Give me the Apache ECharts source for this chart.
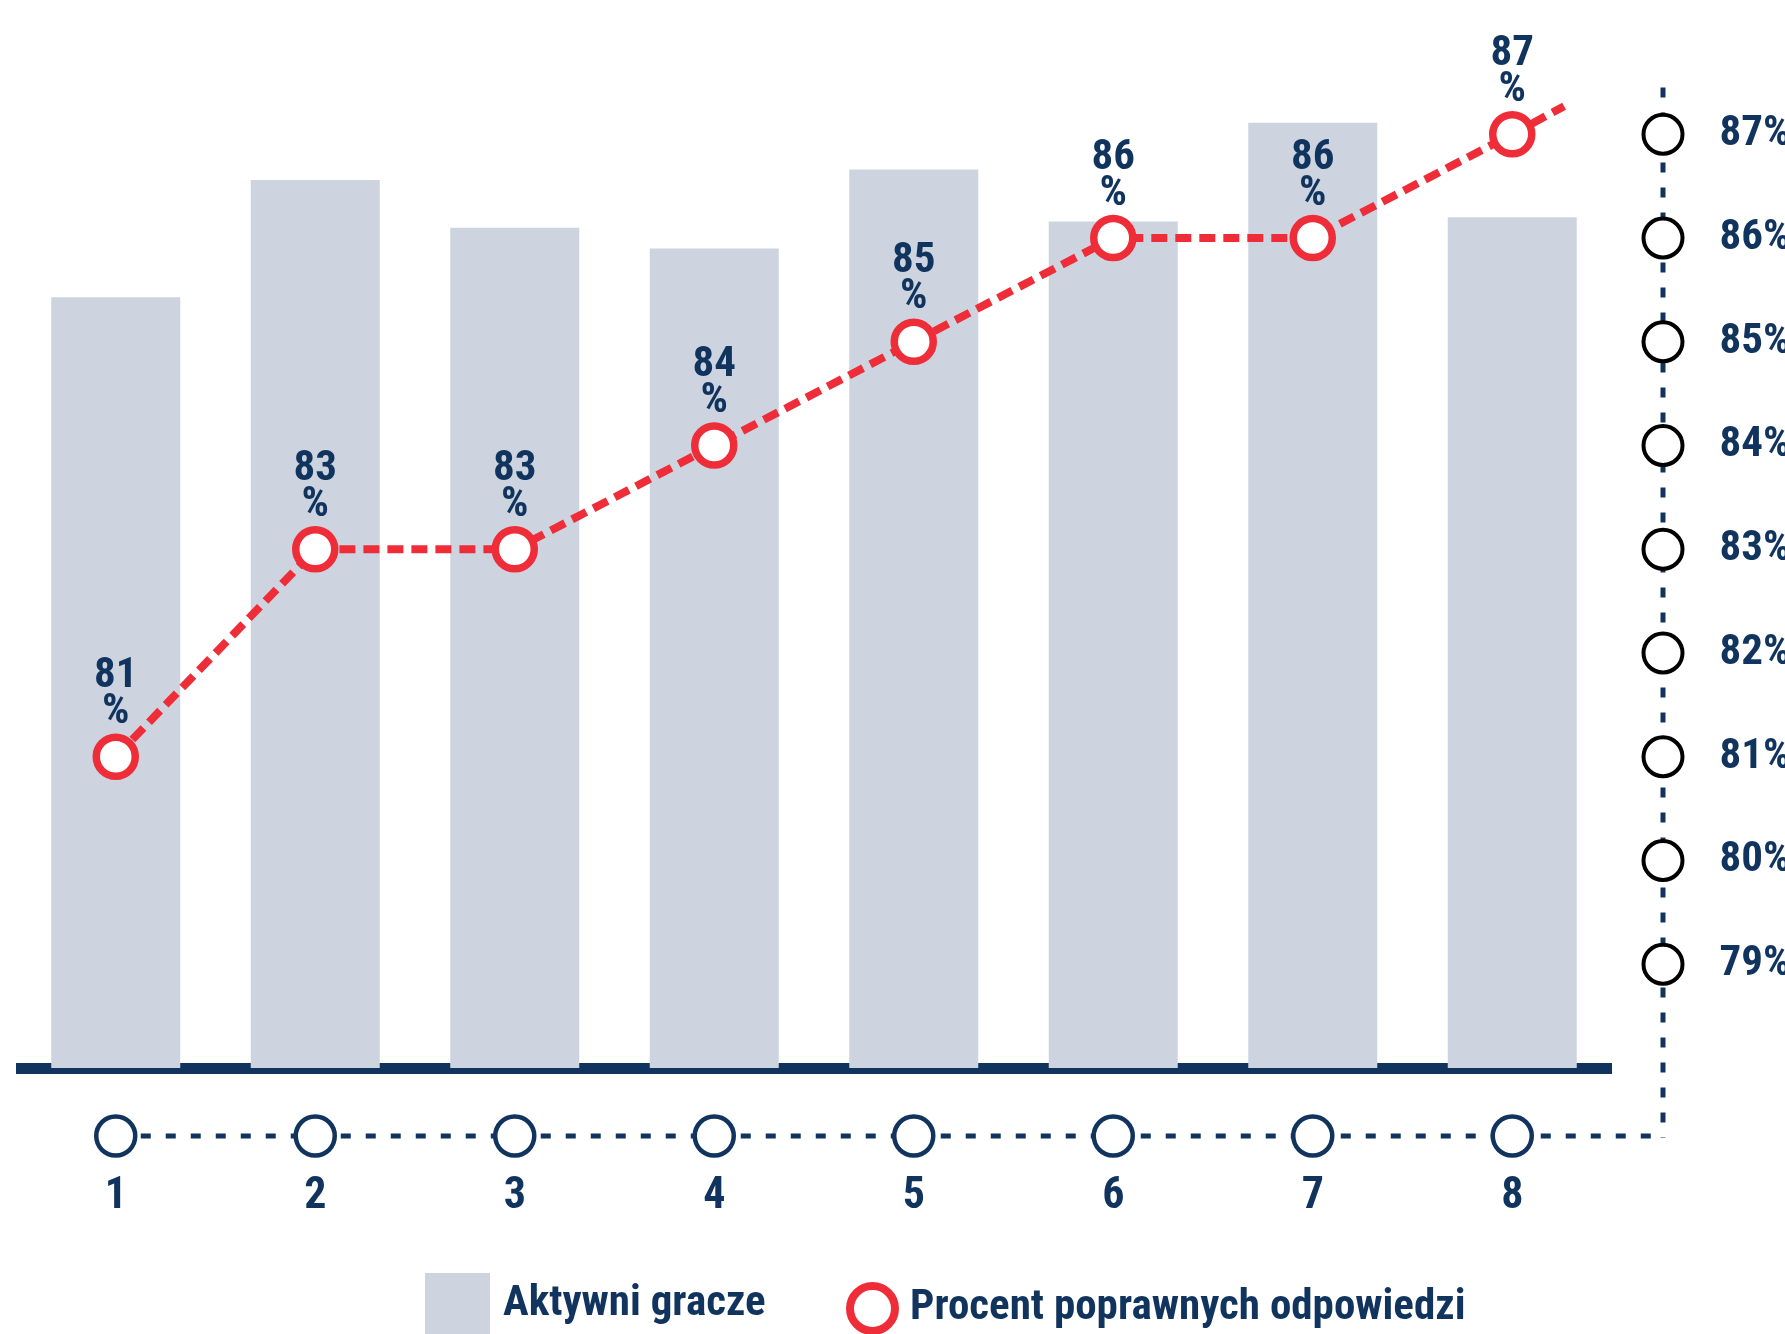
<!DOCTYPE html>
<html>
<head>
<meta charset="utf-8">
<script src="https://cdn.jsdelivr.net/npm/echarts@6/dist/echarts.min.js"></script>
<style>
html,body{margin:0;padding:0;background:#fff;}
#chart{width:1785px;height:1334px;}
</style>
</head>
<body>
<div id="chart"></div>
<script>
// ---- data ----
var categories = ['1', '2', '3', '4', '5', '6', '7', '8'];
var activePlayers = [743, 856, 810, 790, 866, 816, 911, 820];   // relative bar heights (no scale shown)
var correctPct = [81, 83, 83, 84, 85, 86, 86, 87];
var trendTail = [7.26, 87.27];                                  // end of dashed projection after round 8
var pctTicks = [79, 80, 81, 82, 83, 84, 85, 86, 87];
var seriesNames = ['Aktywni gracze', 'Procent poprawnych odpowiedzi'];

// ---- styles ----
var NAVY = '#11345f';
var RED = '#ee2d38';
var BAR = '#cdd4df';
var FONT = "'Liberation Sans Narrow','Roboto Condensed','DejaVu Sans Condensed','Liberation Sans',sans-serif";

var GRID_LEFT = 16, GRID_W = 1596, GRID_TOP = 30.5, GRID_H = 1037.5;

var lineData = correctPct.map(function (v, i) { return [i, v]; });
lineData.push({ value: trendTail, symbol: 'none', label: { show: false } });

var chart = echarts.init(document.getElementById('chart'), null, { renderer: 'canvas' });

var option = {
  animation: false,
  backgroundColor: '#fff',
  textStyle: { fontFamily: FONT },
  grid: [
    { left: GRID_LEFT, width: GRID_W, top: GRID_TOP, height: GRID_H },
    { left: GRID_LEFT, width: GRID_W, top: 1100, height: 72 },
    { left: 1663, width: 10, top: GRID_TOP, height: GRID_H }
  ],
  xAxis: [
    { type: 'category', gridIndex: 0, data: categories, boundaryGap: true,
      axisLine: { show: true, lineStyle: { color: NAVY, width: 11, cap: 'butt' } },
      axisTick: { show: false }, axisLabel: { show: false }, splitLine: { show: false } },
    { type: 'value', gridIndex: 0, min: -0.5, max: 7.5, show: false },
    { type: 'category', gridIndex: 1, data: categories, boundaryGap: true,
      axisLine: { show: false }, axisTick: { show: false },
      axisLabel: { show: true, margin: 3, color: NAVY, fontFamily: FONT, fontWeight: 'bold', fontSize: 44, lineHeight: 44 } },
    { type: 'value', gridIndex: 2, min: 0, max: 1, show: false }
  ],
  yAxis: [
    { type: 'value', gridIndex: 0, min: 0, max: 1000, show: false },
    { type: 'value', gridIndex: 0, min: 78, max: 88, interval: 1, show: false },
    { type: 'value', gridIndex: 1, min: -1, max: 1, show: false },
    { type: 'value', gridIndex: 2, min: 78, max: 88, interval: 1, show: false }
  ],
  legend: [
    { data: [{ name: seriesNames[0], icon: 'rect' }], left: 425, top: 1273, padding: 0,
      itemWidth: 65, itemHeight: 62, selectedMode: false,
      textStyle: { color: NAVY, fontFamily: FONT, fontWeight: 'bold', fontSize: 43, padding: [0, 0, 0, 8] } },
    { data: [{ name: seriesNames[1], icon: 'circle',
               itemStyle: { color: '#fff', borderColor: RED, borderWidth: 8 } }],
      left: 846, top: 1282, padding: 0, itemWidth: 45, itemHeight: 45, selectedMode: false,
      textStyle: { color: NAVY, fontFamily: FONT, fontWeight: 'bold', fontSize: 43, padding: [0, 0, 0, 10] } }
  ],
  series: [
    { name: seriesNames[0], type: 'bar', xAxisIndex: 0, yAxisIndex: 0,
      data: activePlayers, barWidth: 129, itemStyle: { color: BAR }, z: 1 },
    { name: seriesNames[1], type: 'line', xAxisIndex: 1, yAxisIndex: 1,
      data: lineData, symbol: 'circle', symbolSize: 39, z: 5,
      lineStyle: { color: RED, width: 8, type: [16, 8] },
      itemStyle: { color: '#fff', borderColor: RED, borderWidth: 7.5, opacity: 1 },
      label: { show: true, position: 'top', distance: 3, color: NAVY, fontFamily: FONT,
               fontWeight: 'bold', fontSize: 43, lineHeight: 36,
               formatter: function (p) { return p.value[1] + '\n%'; } } },
    { name: 'xTicks', type: 'scatter', xAxisIndex: 2, yAxisIndex: 2,
      data: categories.map(function (c) { return [c, 0]; }),
      symbol: 'circle', symbolSize: 39, z: 4,
      itemStyle: { color: '#fff', borderColor: NAVY, borderWidth: 4.5, opacity: 1 } },
    { name: 'yTicks', type: 'scatter', xAxisIndex: 3, yAxisIndex: 3, clip: false,
      data: pctTicks.map(function (v) { return [0, v]; }),
      symbol: 'circle', symbolSize: 39, z: 4,
      itemStyle: { color: '#fff', borderColor: '#000', borderWidth: 4, opacity: 1 },
      label: { show: true, position: 'right', distance: 35, color: NAVY, fontFamily: FONT,
               fontWeight: 'bold', fontSize: 43,
               formatter: function (p) { return p.value[1] + '%'; } } }
  ]
};
chart.setOption(option);

// dotted guide lines of the decorative axes, positioned through the axes
var p0 = chart.convertToPixel({ xAxisIndex: 2, yAxisIndex: 2 }, [categories[0], 0]);
var rx = chart.convertToPixel({ xAxisIndex: 3, yAxisIndex: 3 }, [0, 87.45]);
chart.setOption({
  graphic: [
    { type: 'line', z: 0, shape: { x1: p0[0], y1: p0[1], x2: rx[0], y2: p0[1] },
      style: { stroke: NAVY, lineWidth: 5, lineDash: [10, 15] } },
    { type: 'line', z: 0, shape: { x1: rx[0], y1: rx[1], x2: rx[0], y2: p0[1] + 2 },
      style: { stroke: NAVY, lineWidth: 5, lineDash: [10, 15] } }
  ]
});
</script>
</body>
</html>
